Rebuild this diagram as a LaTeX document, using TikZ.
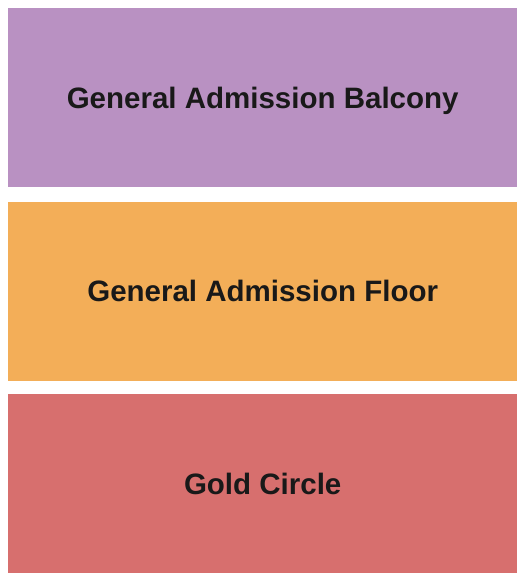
\documentclass[tikz,border=0pt]{standalone}
\usepackage{fontspec}
\setmainfont{Liberation Sans}
\usepackage{tikz}
\usetikzlibrary{positioning}
\definecolor{balcony}{HTML}{B991C2}
\definecolor{floor}{HTML}{F3AE58}
\definecolor{gold}{HTML}{D76F6E}
\tikzset{zone/.style={
    minimum width=509pt,
    minimum height=179pt,
    inner sep=0pt,
    text height=21pt,
    text depth=0pt,
    font=\bfseries\fontsize{29.5}{34}\selectfont,
    text=black!90}}

\begin{document}
\begin{tikzpicture}[x=1pt,y=-1pt]
  % cadre
\useasboundingbox[fill=white] (0,0) rectangle (525,580);

  % zones
  \node[zone,fill=balcony,anchor=north west] (balcon) at (8,8) {General Admission Balcony};
  \node[zone,fill=floor,below=14pt of balcon] (fosse) {General Admission Floor};
  \node[zone,fill=gold,below=13pt of fosse] (gold) {Gold Circle};
\end{tikzpicture}
\end{document}
